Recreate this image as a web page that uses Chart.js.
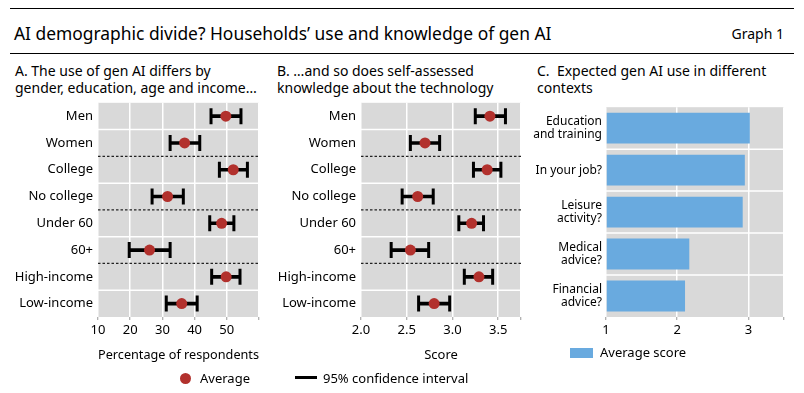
<!DOCTYPE html>
<html>
<head>
<meta charset="utf-8">
<script src="https://cdn.jsdelivr.net/npm/chart.js@4.4.1/dist/chart.umd.min.js"></script>
<style>
  html, body { margin: 0; padding: 0; background: #fff; }
  body { width: 804px; height: 393px; position: relative; overflow: hidden; font-family: 'Noto Sans', sans-serif; color: #000; }
  .rule { position: absolute; left: 10px; width: 784px; height: 0; border-top: 1.5px solid #000; }
  .title { position: absolute; left: 14px; top: 21px; font-size: 17.4px; }
  .graph { position: absolute; right: 20px; top: 24px; font-size: 14px; }
  .ptitle { position: absolute; top: 63px; font-size: 14px; line-height: 16.5px; white-space: nowrap; }
  .box { position: absolute; }
  .leg { position: absolute; font-size: 13px; line-height: 16px; white-space: nowrap; }
</style>
</head>
<body>
<div class="rule" style="top:8px"></div>
<div class="title">AI demographic divide? Households’ use and knowledge of gen AI</div>
<div class="graph">Graph 1</div>
<div class="rule" style="top:53px"></div>

<div class="ptitle" style="left:15px">A. The use of gen AI differs by<br>gender, education, age and income…</div>
<div class="ptitle" style="left:277px">B. …and so does self-assessed<br>knowledge about the technology</div>
<div class="ptitle" style="left:537px">C.&nbsp; Expected gen AI use in different<br>contexts</div>

<div class="box" style="left:0;top:90px;width:270px;height:280px"><canvas id="chartA"></canvas></div>
<div class="box" style="left:270px;top:90px;width:262px;height:280px"><canvas id="chartB"></canvas></div>
<div class="box" style="left:530px;top:90px;width:270px;height:280px"><canvas id="chartC"></canvas></div>

<div class="leg" style="left:180px;top:370px"><span style="display:inline-block;width:11px;height:11px;border-radius:50%;background:#b2312d;vertical-align:-1px"></span><span style="margin-left:9px">Average</span></div>
<div class="leg" style="left:295px;top:370px"><span style="display:inline-block;width:22px;height:3px;background:#000;vertical-align:4px"></span><span style="margin-left:6px">95% confidence interval</span></div>
<div class="leg" style="left:570px;top:344px"><span style="display:inline-block;width:23px;height:10px;background:#69aadf;vertical-align:-1px"></span><span style="margin-left:7px">Average score</span></div>

<script>
const groups = ['Men', 'Women', 'College', 'No college', 'Under 60', '60+', 'High-income', 'Low-income'];
const groupBreaks = [2, 4, 6];

const useAverage = [49.7, 36.9, 52.0, 31.6, 48.4, 26.0, 49.8, 36.0];
const useLow = [45.1, 32.4, 47.7, 26.8, 44.7, 19.7, 45.3, 31.2];
const useHigh = [54.4, 41.6, 56.4, 36.5, 52.2, 32.4, 54.1, 40.8];

const knowAverage = [3.41, 2.70, 3.38, 2.62, 3.21, 2.54, 3.29, 2.80];
const knowLow = [3.25, 2.54, 3.23, 2.45, 3.07, 2.33, 3.13, 2.63];
const knowHigh = [3.58, 2.86, 3.53, 2.79, 3.34, 2.74, 3.44, 2.97];

const contexts = [['Education', 'and training'], 'In your job?', ['Leisure', 'activity?'], ['Medical', 'advice?'], ['Financial', 'advice?']];
const contextScore = [3.02, 2.95, 2.92, 2.17, 2.11];

const useTicks = [10, 20, 30, 40, 50];
const knowTicks = [2.0, 2.5, 3.0, 3.5];
const contextTicks = [1, 2, 3];

const FONT = "'Noto Sans', sans-serif";
const GREY = '#d9d9d9';
const RED = '#b2312d';
const BLUE = '#69aadf';

Chart.defaults.font.family = FONT;
Chart.defaults.color = '#000';
Chart.defaults.animation = false;

// grey panel background + row separators
const panelPlugin = {
    id: 'panel',
    beforeDraw(chart) {
        const { ctx, chartArea } = chart;
        ctx.save();
        ctx.fillStyle = GREY;
        ctx.fillRect(chartArea.left, chartArea.top, chartArea.right - chartArea.left, chartArea.bottom - chartArea.top);
        ctx.restore();
    },
    beforeDatasetsDraw(chart, args, opts) {
        const { ctx, chartArea } = chart;
        const yScale = chart.scales.y;
        const breaks = opts.breaks || [];
        ctx.save();
        for (let i = 1; i < yScale.ticks.length; i++) {
            const y = (yScale.getPixelForValue(i - 1) + yScale.getPixelForValue(i)) / 2;
            ctx.beginPath();
            if (breaks.includes(i)) {
                ctx.strokeStyle = '#222';
                ctx.lineWidth = 1.2;
                ctx.setLineDash([2.5, 2]);
            } else {
                ctx.strokeStyle = '#fff';
                ctx.lineWidth = 1.5;
                ctx.setLineDash([]);
            }
            ctx.moveTo(chartArea.left, y);
            ctx.lineTo(chartArea.right, y);
            ctx.stroke();
        }
        ctx.restore();
    },
};

function xAxis(min, max, ticks, title, fmt) {
    return {
        type: 'linear',
        min: min,
        max: max,
        afterBuildTicks(scale) {
            scale.ticks = ticks.concat([max]).map((v) => ({ value: v }));
        },
        afterFit(scale) {
            scale.height = 53;
        },
        grid: { color: '#fff', lineWidth: 1.5, tickColor: '#999', tickLength: 3, tickWidth: 1 },
        border: { display: false },
        ticks: {
            padding: 2,
            font: { size: 13 },
            callback: (v) => (ticks.includes(v) ? fmt(v) : ''),
        },
        title: title ? { display: true, text: title, font: { size: 13 }, padding: { top: 0, bottom: 7 } } : { display: false },
    };
}

function yAxis(labels, width, size, lineHeight, padding) {
    return {
        type: 'category',
        labels: labels,
        offset: true,
        afterFit(scale) {
            scale.width = width;
        },
        grid: { display: false, drawTicks: false },
        border: { display: false },
        ticks: { padding: padding, font: { size: size, lineHeight: lineHeight }, autoSkip: false },
    };
}

function intervalChart(id, avg, low, high, min, max, ticks, title, fmt, yWidth, padRight) {
    const capPoints = [];
    groups.forEach((g, i) => {
        capPoints.push({ x: low[i], y: g });
        capPoints.push({ x: high[i], y: g });
    });
    return new Chart(document.getElementById(id), {
        type: 'bar',
        data: {
            labels: groups,
            datasets: [
                {
                    type: 'scatter',
                    data: avg.map((v, i) => ({ x: v, y: groups[i] })),
                    backgroundColor: RED,
                    borderColor: RED,
                    pointRadius: 5.5,
                    borderWidth: 0,
                    order: 1,
                },
                {
                    type: 'scatter',
                    data: capPoints,
                    pointStyle: 'line',
                    rotation: 90,
                    pointRadius: 8,
                    borderColor: '#000',
                    borderWidth: 3,
                    order: 2,
                },
                {
                    type: 'bar',
                    indexAxis: 'y',
                    data: low.map((v, i) => [v, high[i]]),
                    backgroundColor: '#000',
                    barThickness: 3,
                    order: 3,
                },
            ],
        },
        options: {
            responsive: true,
            maintainAspectRatio: false,
            indexAxis: 'y',
            layout: { padding: { top: 9.5, right: padRight, left: 0, bottom: 0 } },
            plugins: { legend: { display: false }, tooltip: { enabled: false }, panel: { breaks: groupBreaks } },
            scales: {
                x: xAxis(min, max, ticks, title, fmt),
                y: yAxis(groups, yWidth, 13, 1.2, 5),
            },
        },
        plugins: [panelPlugin],
    });
}

intervalChart('chartA', useAverage, useLow, useHigh, 10, 60, useTicks, 'Percentage of respondents', (v) => String(v), 98, 9);
intervalChart('chartB', knowAverage, knowLow, knowHigh, 2.0, 3.75, knowTicks, 'Score', (v) => v.toFixed(1), 91, 9);

new Chart(document.getElementById('chartC'), {
    type: 'bar',
    data: {
        labels: contexts,
        datasets: [
            {
                data: contextScore,
                base: 1,
                backgroundColor: BLUE,
                categoryPercentage: 0.8,
                barPercentage: 0.92,
            },
        ],
    },
    options: {
        responsive: true,
        maintainAspectRatio: false,
        indexAxis: 'y',
        layout: { padding: { top: 10.5, right: 16, left: 0, bottom: 0 } },
        plugins: { legend: { display: false }, tooltip: { enabled: false }, panel: { breaks: [] } },
        scales: {
            x: xAxis(1, 3.5, contextTicks, null, (v) => String(v)),
            y: yAxis(contexts, 76, 12, 1.1, 4),
        },
    },
    plugins: [panelPlugin],
});
</script>
</body>
</html>
